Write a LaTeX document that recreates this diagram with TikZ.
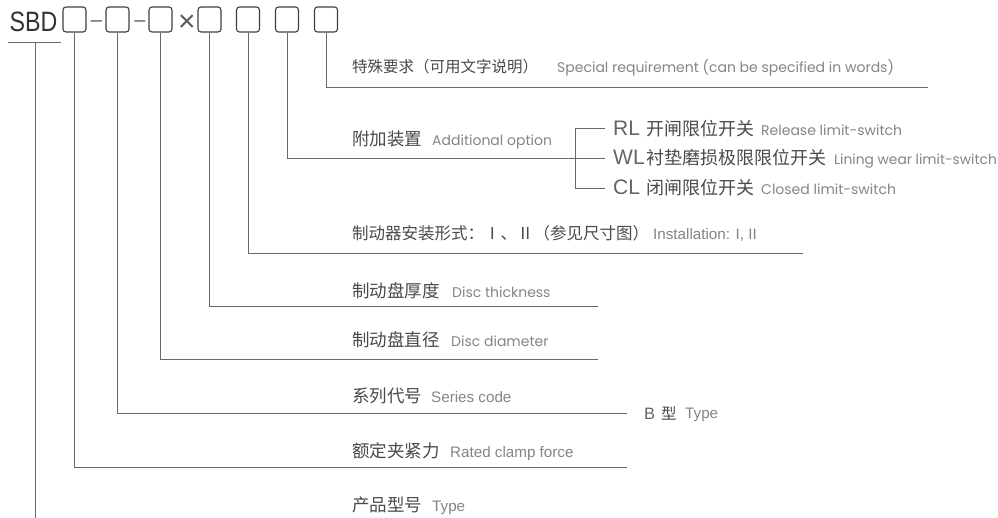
\documentclass[tikz,border=0pt]{standalone}
\usepackage{fontspec}
\setmainfont{Liberation Sans}
\newfontfamily\cjkf{Noto Sans CJK SC}
\newfontfamily\geof{Poppins}
\newfontfamily\arsf{Liberation Sans}
\newfontfamily\sbdf{Liberation Sans}[FakeStretch=0.83]
\newcommand\fsz[1]{\fontsize{#1}{#1}\selectfont}
\definecolor{zhc}{HTML}{4A4A4A}
\definecolor{enc}{HTML}{858585}
\definecolor{lnc}{HTML}{6A6A6A}
\definecolor{boxc}{HTML}{404040}
\definecolor{sbdc}{HTML}{333333}
\tikzset{
  zh/.style={anchor=base west, inner sep=0pt, text=zhc, font=\cjkf\fsz{17.5}},
  en/.style={anchor=base west, inner sep=0pt, text=enc, font=\geof\fsz{14}},
  ec/.style={anchor=base west, inner sep=0pt, text=enc, font=\arsf\fsz{15.2}},
  lt/.style={anchor=base west, inner sep=0pt, text=zhc!85, font=\arsf\fsz{21}},
  sym/.style={anchor=base, inner sep=0pt, text=sbdc!80, font=\arsf\fsz{20}},
  codebox/.style={draw=boxc, line width=1.1pt, rounded corners=3pt, minimum width=23pt, minimum height=25pt, inner sep=0pt},
  ln/.style={draw=lnc, line width=0.9pt},
}
\begin{document}
\begin{tikzpicture}[x=1pt,y=-1pt]
\fill[white] (0,0) rectangle (998,518);
\useasboundingbox (0,0) rectangle (998,518);
% top code row
\node[anchor=base west, inner sep=0pt, text=sbdc, font=\sbdf\fsz{28}] (sbd) at (9.5,32) {SBD};
\node[codebox] (b1) at (74.5,19.5) {};
\node[sym] (d1) at (96.5,26.4) {–};
\node[codebox] (b2) at (117.5,19.5) {};
\node[sym] (d2) at (140,26.4) {–};
\node[codebox] (b3) at (160.5,19.5) {};
\node[sym, font=\arsf\fsz{30}] (x1) at (187,32) {×};
\node[codebox] (b4) at (209.5,19.5) {};
\node[codebox] (b5) at (248,19.5) {};
\node[codebox] (b6) at (287,19.5) {};
\node[codebox] (b7) at (326,19.5) {};
% line end points
\coordinate (u1) at (8,42);
\coordinate (u2) at (61,42);
\coordinate (s0) at (35,42);
\coordinate (s1) at (35,518);
\coordinate (e7) at (928,87);
\coordinate (e6) at (605,158);
\coordinate (rlT) at (605,128);
\coordinate (brT) at (575,128);
\coordinate (brB) at (575,188);
\coordinate (rlB) at (605,188);
\coordinate (e5) at (803,253);
\coordinate (e4) at (598,306);
\coordinate (e3) at (598,359);
\coordinate (e2) at (627,413);
\coordinate (e1) at (627,467);
% connectors
\draw[ln] (u1) -- (u2);
\draw[ln] (s0) -- (s1);
\draw[ln] (b7.south) |- (e7);
\draw[ln] (b6.south) |- (e6);
\draw[ln] (rlT) -- (brT) -- (brB) -- (rlB);
\draw[ln] (b5.south) |- (e5);
\draw[ln] (b4.south) |- (e4);
\draw[ln] (b3.south) |- (e3);
\draw[ln] (b2.south) |- (e2);
\draw[ln] (b1.south) |- (e1);
% labels
\node[zh, font=\cjkf\fsz{15.5}] (t7) at (352,73) {特殊要求（可用文字说明）};
\node[en] (t7e) at (557,73) {Special requirement (can be specified in words)};
\node[zh] (t6) at (352,145.5) {附加装置};
\node[en] (t6e) at (432,145.5) {Additional option};
\node[lt] (rl) at (613,136) {RL};
\node[zh, font=\cjkf\fsz{18}] (rlz) at (646,136) {开闸限位开关};
\node[en] (rle) at (761,136) {Release limit-switch};
\node[lt] (wl) at (613,164.5) {WL};
\node[zh, font=\cjkf\fsz{18}] (wlz) at (646,164.5) {衬垫磨损极限限位开关};
\node[en, font=\geof\fsz{13.8}] (wle) at (834,164.5) {Lining wear limit-switch};
\node[lt] (cl) at (613,194.5) {CL};
\node[zh, font=\cjkf\fsz{18}] (clz) at (646,194.5) {闭闸限位开关};
\node[en] (cle) at (761,194.5) {Closed limit-switch};
\node[zh, font=\cjkf\fsz{16.5}] (t5) at (352,240) {制动器安装形式：Ⅰ、Ⅱ（参见尺寸图）};
\node[ec] (t5e) at (653,240) {Installation: I, II};
\node[zh] (t4) at (352,298) {制动盘厚度};
\node[en] (t4e) at (452,298) {Disc thickness};
\node[zh] (t3) at (352,347) {制动盘直径};
\node[en] (t3e) at (451,347) {Disc diameter};
\node[zh] (t2) at (352,402) {系列代号};
\node[ec] (t2e) at (431,402) {Series code};
\node[lt, font=\arsf\fsz{16.5}] (bb) at (644,419.5) {B};
\node[zh, font=\cjkf\fsz{15.5}] (bz) at (661,419.5) {型};
\node[ec] (bte) at (685,418) {Type};
\node[zh] (t1) at (352,457.5) {额定夹紧力};
\node[ec] (t1e) at (450,457.5) {Rated clamp force};
\node[zh] (t0) at (352,511) {产品型号};
\node[ec] (t0e) at (432,511) {Type};
\end{tikzpicture}
\end{document}
